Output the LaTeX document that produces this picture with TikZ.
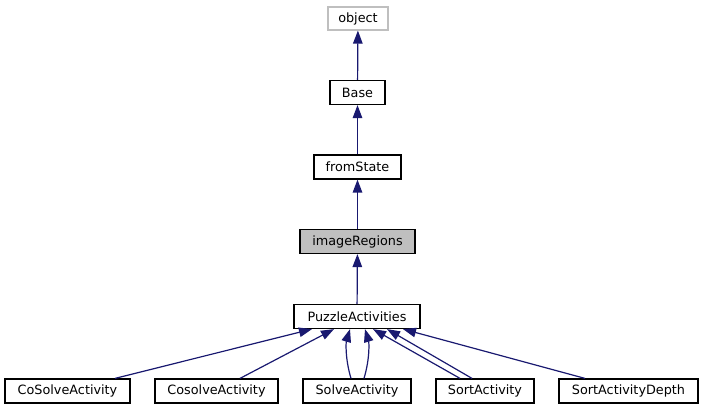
\documentclass[tikz,border=0pt]{standalone}
\usepackage{fontspec}
\setmainfont{DejaVu Sans}
\usetikzlibrary{arrows.meta}
\definecolor{edgeblue}{HTML}{191970}
\definecolor{greyborder}{HTML}{BFBFBF}
\definecolor{fillgrey}{HTML}{BFBFBF}
\begin{document}
\begin{tikzpicture}[x=1pt,y=-1pt,
  cls/.style={draw=black,line width=1.2pt,fill=white,inner sep=0pt,minimum height=24pt,font=\fontsize{12.8}{15}\selectfont},
  inh/.style={draw=edgeblue,line width=1.2pt,-{Triangle[length=13pt,width=9.5pt]},color=edgeblue}]
\useasboundingbox (0,0) rectangle (702,411);
\node[cls,draw=greyborder,minimum width=60pt,minimum height=23pt] (object) at (358,18.5) {object};
\node[cls,minimum width=55pt] (base) at (357.5,92.5) {Base};
\node[cls,minimum width=87pt] (fromstate) at (357.5,167) {fromState};
\node[cls,fill=fillgrey,minimum width=115pt] (imgreg) at (357.5,241.5) {imageRegions};
\node[cls,minimum width=126pt] (puzzle) at (357,316.5) {PuzzleActivities};
\node[cls,minimum width=125pt] (cosolveA) at (67.5,391) {CoSolveActivity};
\node[cls,minimum width=123pt] (cosolveB) at (216.5,391) {CosolveActivity};
\node[cls,minimum width=108pt] (solve) at (357,391) {SolveActivity};
\node[cls,minimum width=98pt] (sort) at (485,391) {SortActivity};
\node[cls,minimum width=139pt] (sortdepth) at (628.5,391) {SortActivityDepth};
\draw[inh] (base) -- (object);
\draw[inh] (fromstate) -- (base);
\draw[inh] (imgreg) -- (fromstate);
\draw[inh] (puzzle) -- (imgreg);
\draw[inh] ([xshift=47.5pt]cosolveA.north) -- ([xshift=-45pt]puzzle.south);
\draw[inh] ([xshift=23.5pt]cosolveB.north) -- ([xshift=-23pt]puzzle.south);
\draw[inh] ([xshift=-6pt]solve.north) .. controls ([xshift=-12pt,yshift=20pt]solve.north) and ([xshift=-11pt,yshift=36pt]solve.north) .. ([xshift=-7pt]puzzle.south);
\draw[inh] ([xshift=7pt]solve.north) .. controls ([xshift=13pt,yshift=20pt]solve.north) and ([xshift=12pt,yshift=36pt]solve.north) .. ([xshift=8pt]puzzle.south);
\draw[inh] ([xshift=-25pt]sort.north) -- ([xshift=16pt]puzzle.south);
\draw[inh] ([xshift=-13pt]sort.north) -- ([xshift=30pt]puzzle.south);
\draw[inh] ([xshift=-43.5pt]sortdepth.north) -- ([xshift=46pt]puzzle.south);
\end{tikzpicture}
\end{document}
